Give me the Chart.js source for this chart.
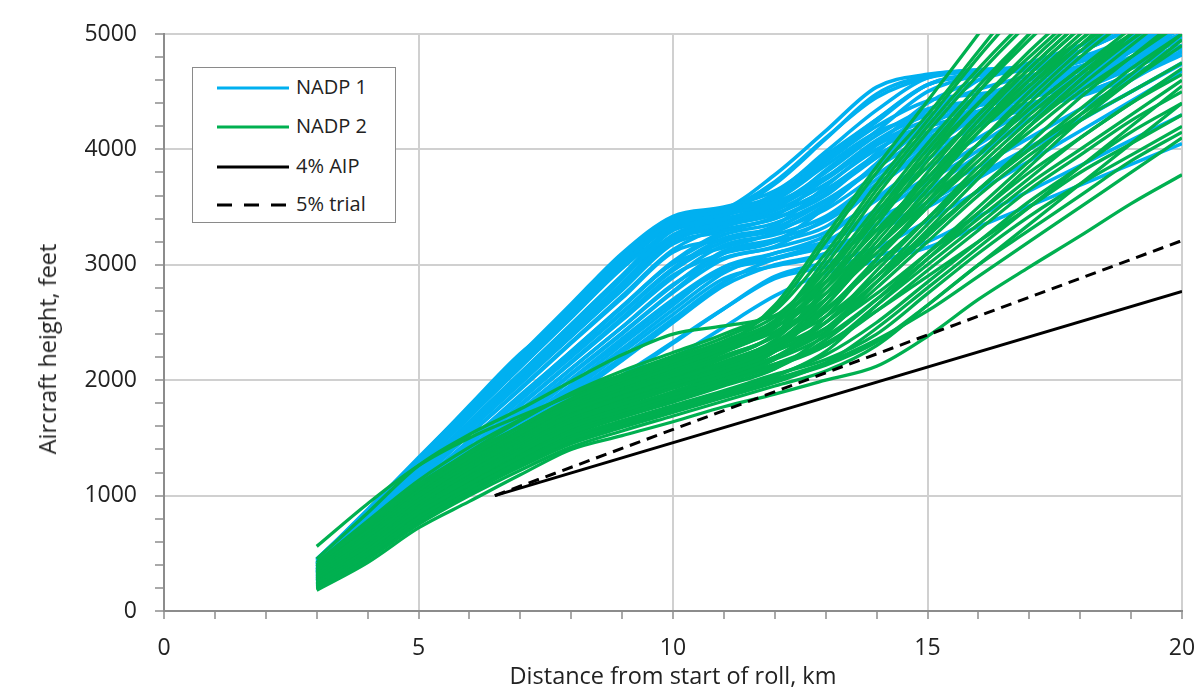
<!DOCTYPE html>
<html>
<head>
<meta charset="utf-8">
<script src="https://cdn.jsdelivr.net/npm/chart.js@4.4.1/dist/chart.umd.min.js"></script>
<style>
  body { margin: 0; background: #fff; }
  #wrap { position: relative; width: 1198px; height: 689px; }
  #ytitle { position: absolute; left: 47px; top: 349px; transform: translate(-50%, -50%) rotate(-90deg);
    white-space: nowrap; font-family: 'Open Sans', sans-serif; font-size: 23.5px; color: #222; }
  #legend { position: absolute; left: 192px; top: 67px; width: 202px; height: 154px;
    border: 1.5px solid #8a8a8a; background: #fff; font-family: 'Open Sans', sans-serif;
    font-size: 20px; color: #222; }
  .row { position: absolute; left: 0; height: 30px; width: 200px; }
  .row svg { position: absolute; left: 24px; top: 12px; }
  .row span { position: absolute; left: 103px; top: 1px; line-height: 26px; }
</style>
</head>
<body>
<div id="wrap">
  <canvas id="chart" width="1198" height="689"></canvas>
  <div id="ytitle">Aircraft height, feet</div>
  <div id="legend">
    <div class="row" style="top:5px"><svg width="72" height="6"><line x1="0" y1="3" x2="72" y2="3" stroke="#00b0f0" stroke-width="3"/></svg><span>NADP 1</span></div>
    <div class="row" style="top:44px"><svg width="72" height="6"><line x1="0" y1="3" x2="72" y2="3" stroke="#00b050" stroke-width="3"/></svg><span>NADP 2</span></div>
    <div class="row" style="top:84px"><svg width="72" height="6"><line x1="0" y1="3" x2="72" y2="3" stroke="#000" stroke-width="3"/></svg><span>4% AIP</span></div>
    <div class="row" style="top:122px"><svg width="72" height="6"><line x1="0" y1="3" x2="72" y2="3" stroke="#000" stroke-width="3" stroke-dasharray="15 12"/></svg><span>5% trial</span></div>
  </div>
</div>
<script>
// distance from start of roll (km) for the departure tracks
var km = [3, 4, 5, 6, 7, 8, 9, 10, 11, 12, 13, 14, 15, 16, 17, 18, 19, 20];

// NADP 1 departures, height in feet at each km
var nadp1 = [
  [200, 470, 780, 1060, 1340, 1620, 1900, 2180, 2460, 2730, 2930, 3030, 3150, 3330, 3510, 3690, 3870, 4050],
  [210, 500, 820, 1120, 1420, 1720, 2020, 2320, 2620, 2900, 3020, 3150, 3380, 3640, 3900, 4160, 4420, 4680],
  [230, 520, 830, 1130, 1430, 1730, 2040, 2330, 2620, 2880, 2980, 3080, 3200, 3420, 3640, 3860, 4080, 4300],
  [220, 540, 870, 1190, 1520, 1850, 2170, 2500, 2820, 3000, 3100, 3350, 3650, 3950, 4250, 4550, 4850, 5150],
  [250, 570, 900, 1230, 1570, 1900, 2240, 2570, 2880, 2990, 3080, 3300, 3540, 3780, 4020, 4260, 4500, 4740],
  [240, 580, 930, 1270, 1620, 1960, 2310, 2650, 2980, 3100, 3250, 3580, 3910, 4240, 4500, 4640, 4780, 5000],
  [260, 610, 960, 1310, 1660, 2010, 2360, 2700, 2980, 3060, 3200, 3480, 3760, 4040, 4320, 4600, 4880, 5160],
  [280, 640, 990, 1350, 1700, 2060, 2410, 2770, 3100, 3200, 3330, 3680, 4030, 4380, 4600, 4700, 4900, 5150],
  [270, 640, 1000, 1370, 1730, 2100, 2460, 2830, 3060, 3160, 3400, 3700, 4000, 4300, 4600, 4850, 5100, 5350],
  [300, 670, 1040, 1410, 1780, 2150, 2520, 2890, 3170, 3260, 3420, 3740, 4060, 4380, 4620, 4720, 4900, 5100],
  [290, 660, 1040, 1410, 1790, 2160, 2540, 2910, 3100, 3200, 3500, 3880, 4260, 4600, 4750, 4900, 5100, 5300],
  [310, 690, 1070, 1450, 1830, 2210, 2590, 2970, 3230, 3320, 3550, 3840, 4130, 4380, 4560, 4680, 4850, 5050],
  [320, 700, 1090, 1470, 1860, 2240, 2630, 3010, 3150, 3280, 3520, 3860, 4200, 4420, 4560, 4700, 4900, 5100],
  [300, 690, 1080, 1470, 1860, 2250, 2640, 3030, 3290, 3400, 3620, 3930, 4240, 4450, 4600, 4720, 4850, 5000],
  [340, 740, 1130, 1530, 1920, 2320, 2710, 3110, 3220, 3340, 3680, 4040, 4400, 4600, 4720, 4850, 5050, 5250],
  [330, 730, 1130, 1530, 1930, 2330, 2730, 3130, 3330, 3440, 3650, 3930, 4210, 4400, 4520, 4620, 4750, 4900],
  [350, 760, 1160, 1570, 1970, 2380, 2780, 3180, 3290, 3420, 3750, 4080, 4300, 4420, 4500, 4620, 4800, 5000],
  [360, 770, 1180, 1590, 2000, 2410, 2820, 3230, 3360, 3470, 3700, 4000, 4200, 4300, 4380, 4480, 4650, 4850],
  [340, 750, 1160, 1580, 1990, 2400, 2810, 3220, 3310, 3400, 3600, 3970, 4340, 4520, 4640, 4760, 4950, 5200],
  [370, 790, 1210, 1620, 2040, 2460, 2880, 3300, 3400, 3520, 3800, 4120, 4350, 4420, 4480, 4580, 4760, 4950],
  [380, 800, 1220, 1640, 2060, 2480, 2900, 3250, 3360, 3480, 3820, 4160, 4500, 4640, 4700, 4780, 4950, 5150],
  [360, 785, 1210, 1635, 2060, 2485, 2910, 3330, 3430, 3540, 3760, 4050, 4250, 4330, 4400, 4520, 4700, 4880],
  [390, 820, 1250, 1680, 2110, 2540, 2970, 3300, 3390, 3560, 3900, 4240, 4560, 4650, 4690, 4760, 4920, 5100],
  [400, 830, 1260, 1700, 2130, 2560, 2990, 3380, 3460, 3580, 3890, 4200, 4420, 4480, 4540, 4640, 4800, 4980],
  [410, 845, 1280, 1720, 2150, 2590, 3020, 3330, 3420, 3620, 3980, 4340, 4620, 4680, 4720, 4850, 5050, 5300],
  [420, 860, 1300, 1740, 2180, 2620, 3050, 3400, 3480, 3600, 3930, 4260, 4560, 4640, 4690, 4790, 4960, 5180],
  [430, 870, 1310, 1750, 2190, 2630, 3070, 3360, 3440, 3700, 4090, 4480, 4640, 4690, 4720, 4800, 4980, 5250],
  [440, 880, 1330, 1770, 2220, 2660, 3100, 3420, 3500, 3640, 3950, 4260, 4560, 4660, 4700, 4780, 4950, 5150],
  [450, 860, 1290, 1740, 2170, 2600, 3030, 3390, 3480, 3780, 4160, 4540, 4650, 4690, 4720, 4900, 5150, 5400],
  [445, 870, 1320, 1780, 2230, 2580, 3080, 3380, 3470, 3720, 4100, 4450, 4620, 4680, 4710, 4850, 5050, 5300],
  [260, 600, 950, 1300, 1650, 2000, 2340, 2680, 2950, 3050, 3180, 3450, 3720, 3990, 4260, 4530, 4800, 5050],
  [300, 660, 1020, 1380, 1740, 2100, 2460, 2820, 3120, 3220, 3380, 3680, 3980, 4200, 4380, 4550, 4750, 4950],
  [330, 710, 1100, 1480, 1870, 2250, 2640, 3020, 3260, 3360, 3560, 3850, 4100, 4300, 4450, 4600, 4780, 4980],
  [360, 760, 1170, 1570, 1980, 2380, 2790, 3200, 3340, 3440, 3650, 3950, 4150, 4250, 4350, 4480, 4650, 4850],
  [230, 550, 880, 1210, 1540, 1870, 2200, 2530, 2850, 3050, 3150, 3300, 3500, 3750, 4000, 4250, 4500, 4750],
  [410, 840, 1270, 1700, 2130, 2560, 2990, 3350, 3440, 3560, 3860, 4150, 4300, 4380, 4450, 4560, 4720, 4900],
  [280, 630, 980, 1340, 1690, 2050, 2400, 2760, 3050, 3150, 3280, 3560, 3840, 4100, 4350, 4600, 4850, 5100],
  [320, 700, 1070, 1450, 1830, 2200, 2580, 2950, 3200, 3300, 3480, 3780, 4080, 4330, 4520, 4680, 4850, 5050],
  [250, 580, 920, 1250, 1590, 1930, 2270, 2610, 2930, 3100, 3200, 3400, 3620, 3850, 4100, 4350, 4600, 4850],
  [380, 790, 1200, 1610, 2020, 2430, 2840, 3260, 3380, 3500, 3740, 4040, 4200, 4280, 4360, 4460, 4620, 4820]
];

// NADP 2 departures, height in feet at each km
var nadp2 = [
  [180, 420, 720, 950, 1180, 1400, 1520, 1640, 1770, 1880, 2000, 2120, 2380, 2700, 2980, 3250, 3530, 3780],
  [200, 450, 750, 1000, 1220, 1420, 1560, 1690, 1820, 1950, 2080, 2300, 2650, 3000, 3350, 3700, 4050, 4400],
  [220, 480, 780, 1030, 1250, 1450, 1590, 1720, 1850, 1980, 2150, 2450, 2800, 3150, 3500, 3850, 4200, 4550],
  [250, 500, 810, 1060, 1290, 1490, 1620, 1750, 1880, 2030, 2250, 2650, 3050, 3450, 3850, 4250, 4600, 4950],
  [190, 470, 790, 1050, 1300, 1510, 1650, 1780, 1910, 2050, 2180, 2400, 2750, 3100, 3420, 3700, 3950, 4200],
  [260, 530, 850, 1100, 1330, 1540, 1680, 1810, 1950, 2100, 2400, 2850, 3300, 3750, 4200, 4600, 5000, 5400],
  [230, 510, 830, 1090, 1340, 1560, 1700, 1840, 1980, 2120, 2300, 2650, 3000, 3350, 3700, 4000, 4300, 4600],
  [280, 560, 880, 1140, 1380, 1590, 1730, 1870, 2010, 2180, 2550, 3050, 3550, 4050, 4500, 4900, 5300, 5700],
  [300, 580, 900, 1160, 1400, 1610, 1760, 1900, 2040, 2200, 2450, 2850, 3250, 3650, 4050, 4450, 4800, 5150],
  [270, 560, 890, 1170, 1420, 1640, 1790, 1930, 2070, 2250, 2650, 3150, 3650, 4150, 4600, 5000, 5400, 5800],
  [320, 610, 930, 1200, 1440, 1660, 1810, 1960, 2100, 2280, 2600, 3000, 3400, 3800, 4200, 4550, 4900, 5250],
  [290, 590, 920, 1200, 1460, 1690, 1850, 2000, 2150, 2350, 2800, 3350, 3900, 4400, 4850, 5250, 5650, 6000],
  [340, 640, 960, 1230, 1480, 1700, 1860, 2010, 2160, 2320, 2550, 2900, 3280, 3650, 4000, 4350, 4700, 5000],
  [310, 620, 950, 1240, 1500, 1730, 1890, 2040, 2190, 2400, 2900, 3450, 3950, 4400, 4800, 5200, 5600, 6000],
  [360, 660, 990, 1260, 1510, 1740, 1900, 2060, 2210, 2380, 2700, 3150, 3600, 4050, 4450, 4850, 5200, 5550],
  [330, 650, 980, 1270, 1530, 1760, 1920, 2080, 2240, 2450, 2850, 3300, 3750, 4200, 4600, 4950, 5300, 5650],
  [380, 690, 1010, 1290, 1550, 1780, 1950, 2110, 2270, 2480, 2950, 3500, 4050, 4550, 5000, 5400, 5800, 6200],
  [350, 680, 1010, 1300, 1560, 1800, 1970, 2130, 2290, 2460, 2750, 3150, 3550, 3950, 4350, 4700, 5000, 5300],
  [400, 750, 1100, 1370, 1600, 1830, 2000, 2160, 2320, 2520, 3000, 3600, 4150, 4650, 5100, 5500, 5900, 6300],
  [370, 700, 1040, 1330, 1600, 1840, 2020, 2180, 2340, 2550, 2950, 3400, 3850, 4300, 4700, 5100, 5450, 5800],
  [420, 780, 1130, 1420, 1660, 1880, 2050, 2210, 2370, 2600, 3100, 3700, 4250, 4800, 5300, 5800, 6200, 6600],
  [390, 730, 1080, 1380, 1650, 1890, 2080, 2240, 2400, 2620, 3200, 3800, 4300, 4850, 5400, 5900, 6400, 6900],
  [450, 850, 1260, 1530, 1750, 1990, 2220, 2400, 2470, 2560, 2850, 3300, 3750, 4200, 4650, 5050, 5400, 5700],
  [400, 720, 1060, 1350, 1600, 1820, 2000, 2150, 2300, 2650, 3250, 3850, 4420, 5000, 5600, 6200, 6700, 7200],
  [560, 930, 1260, 1500, 1690, 1870, 2040, 2190, 2330, 2500, 2800, 3250, 3700, 4150, 4550, 4950, 5300, 5650],
  [210, 490, 820, 1100, 1350, 1580, 1740, 1890, 2040, 2200, 2420, 2800, 3200, 3600, 3950, 4250, 4500, 4750],
  [240, 530, 860, 1140, 1400, 1630, 1790, 1940, 2090, 2250, 2500, 2950, 3400, 3850, 4250, 4650, 5000, 5350],
  [200, 460, 770, 1030, 1270, 1480, 1620, 1760, 1890, 2010, 2150, 2350, 2600, 2900, 3200, 3500, 3800, 4100],
  [230, 500, 820, 1080, 1330, 1550, 1700, 1850, 2000, 2140, 2300, 2600, 2950, 3300, 3650, 3950, 4250, 4500],
  [260, 540, 870, 1150, 1410, 1650, 1820, 1980, 2130, 2300, 2600, 3050, 3500, 3950, 4350, 4700, 5050, 5400],
  [330, 630, 960, 1250, 1520, 1760, 1940, 2100, 2260, 2420, 2700, 3100, 3500, 3900, 4300, 4650, 4950, 5250],
  [280, 570, 900, 1180, 1440, 1680, 1850, 2010, 2160, 2330, 2620, 3000, 3400, 3800, 4150, 4500, 4800, 5100],
  [250, 520, 840, 1110, 1360, 1580, 1740, 1890, 2050, 2250, 2700, 3250, 3800, 4300, 4750, 5150, 5500, 5850],
  [300, 600, 930, 1210, 1470, 1700, 1870, 2030, 2190, 2400, 2850, 3400, 3950, 4500, 5000, 5450, 5850, 6200],
  [350, 660, 990, 1270, 1520, 1750, 1920, 2080, 2240, 2500, 3050, 3650, 4200, 4700, 5150, 5550, 5900, 6250],
  [270, 550, 870, 1150, 1400, 1620, 1780, 1930, 2080, 2280, 2650, 3150, 3650, 4150, 4550, 4900, 5200, 5500],
  [320, 620, 950, 1230, 1490, 1720, 1890, 2050, 2210, 2380, 2750, 3250, 3750, 4250, 4700, 5100, 5450, 5800],
  [240, 520, 850, 1120, 1370, 1590, 1750, 1900, 2050, 2200, 2500, 2900, 3350, 3800, 4200, 4600, 4950, 5300],
  [380, 700, 1030, 1310, 1570, 1800, 1980, 2140, 2300, 2500, 2900, 3450, 4000, 4500, 4950, 5350, 5700, 6050],
  [290, 580, 910, 1190, 1450, 1680, 1840, 1990, 2140, 2320, 2700, 3200, 3700, 4200, 4650, 5050, 5400, 5700],
  [220, 490, 800, 1070, 1310, 1530, 1680, 1820, 1960, 2100, 2350, 2700, 3100, 3500, 3900, 4300, 4650, 5000],
  [310, 600, 920, 1200, 1450, 1670, 1830, 1980, 2130, 2300, 2600, 3050, 3500, 3950, 4400, 4800, 5150, 5500],
  [210, 480, 790, 1050, 1290, 1500, 1640, 1770, 1900, 2040, 2220, 2500, 2850, 3200, 3550, 3850, 4150, 4400],
  [260, 540, 860, 1130, 1380, 1600, 1750, 1890, 2030, 2180, 2380, 2700, 3050, 3400, 3750, 4100, 4400, 4700],
  [230, 510, 830, 1100, 1350, 1570, 1720, 1860, 2000, 2140, 2320, 2600, 2900, 3200, 3500, 3800, 4050, 4300],
  [300, 590, 910, 1190, 1440, 1660, 1820, 1970, 2120, 2280, 2500, 2850, 3250, 3650, 4000, 4300, 4600, 4900],
  [190, 450, 760, 1020, 1260, 1470, 1610, 1740, 1870, 2000, 2130, 2330, 2650, 3000, 3300, 3600, 3900, 4150],
  [270, 560, 880, 1160, 1410, 1630, 1790, 1940, 2090, 2250, 2450, 2750, 3100, 3450, 3800, 4100, 4400, 4650]
];

// reference climb gradients
var refKm = [6.5, 20];
var aip4 = [1000, 2770];
var trial5 = [1000, 3210];

var xLabels = [0, 5, 10, 15, 20];
var yLabels = [0, 1000, 2000, 3000, 4000, 5000];

var BLUE = '#00b0f0', GREEN = '#00b050';

function toPoints(xs, ys) {
  return ys.map(function(y, i) { return {x: xs[i], y: y}; });
}

var datasets = [];
datasets.push({ label: '4% AIP', data: toPoints(refKm, aip4), borderColor: '#000', borderWidth: 3, order: 0 });
datasets.push({ label: '5% trial', data: toPoints(refKm, trial5), borderColor: '#000', borderWidth: 3, borderDash: [11, 7], order: 0 });
for (var i in nadp2) {
  datasets.push({ label: 'NADP 2', data: toPoints(km, nadp2[i]), borderColor: GREEN, borderWidth: 3.3, order: 1 });
}
for (var j in nadp1) {
  datasets.push({ label: 'NADP 1', data: toPoints(km, nadp1[j]), borderColor: BLUE, borderWidth: 3.6, order: 2 });
}

var tickFont = { family: 'Open Sans', size: 23 };

new Chart(document.getElementById('chart'), {
  type: 'line',
  data: { datasets: datasets },
  options: {
    responsive: false,
    animation: false,
    layout: { padding: { left: 0, right: 16, top: 34, bottom: 0 } },
    elements: {
      point: { radius: 0 },
      line: { cubicInterpolationMode: 'monotone', fill: false }
    },
    plugins: { legend: { display: false }, tooltip: { enabled: false } },
    scales: {
      x: {
        type: 'linear', min: 0, max: 20,
        ticks: {
          stepSize: 1, autoSkip: false, maxRotation: 0, padding: 16,
          font: tickFont, color: '#222',
          callback: function(v) { return xLabels.indexOf(v) >= 0 ? v : ''; }
        },
        grid: {
          color: function(ctx) { return ctx.tick && xLabels.indexOf(ctx.tick.value) > 0 ? '#d0d0d0' : 'rgba(0,0,0,0)'; },
          lineWidth: 2, tickColor: '#8c8c8c', tickWidth: 1.5, tickLength: 8
        },
        border: { color: '#8c8c8c', width: 2 },
        title: { display: true, text: 'Distance from start of roll, km', font: { family: 'Open Sans', size: 23.5, lineHeight: 1 }, color: '#222', padding: 0 },
        afterFit: function(s) { s.height = 78; s.paddingLeft = 0; s.paddingRight = 0; }
      },
      y: {
        min: 0, max: 5000,
        ticks: {
          stepSize: 200, autoSkip: false, padding: 18,
          font: tickFont, color: '#222',
          callback: function(v) { return yLabels.indexOf(v) >= 0 ? v : ''; }
        },
        grid: {
          color: function(ctx) { return ctx.tick && yLabels.indexOf(ctx.tick.value) > 0 ? '#d0d0d0' : 'rgba(0,0,0,0)'; },
          lineWidth: 2, tickColor: '#8c8c8c', tickWidth: 1.5, tickLength: 9
        },
        border: { color: '#8c8c8c', width: 2 },
        title: { display: false },
        afterFit: function(s) { s.width = 164; }
      }
    }
  }
});
</script>
</body>
</html>
